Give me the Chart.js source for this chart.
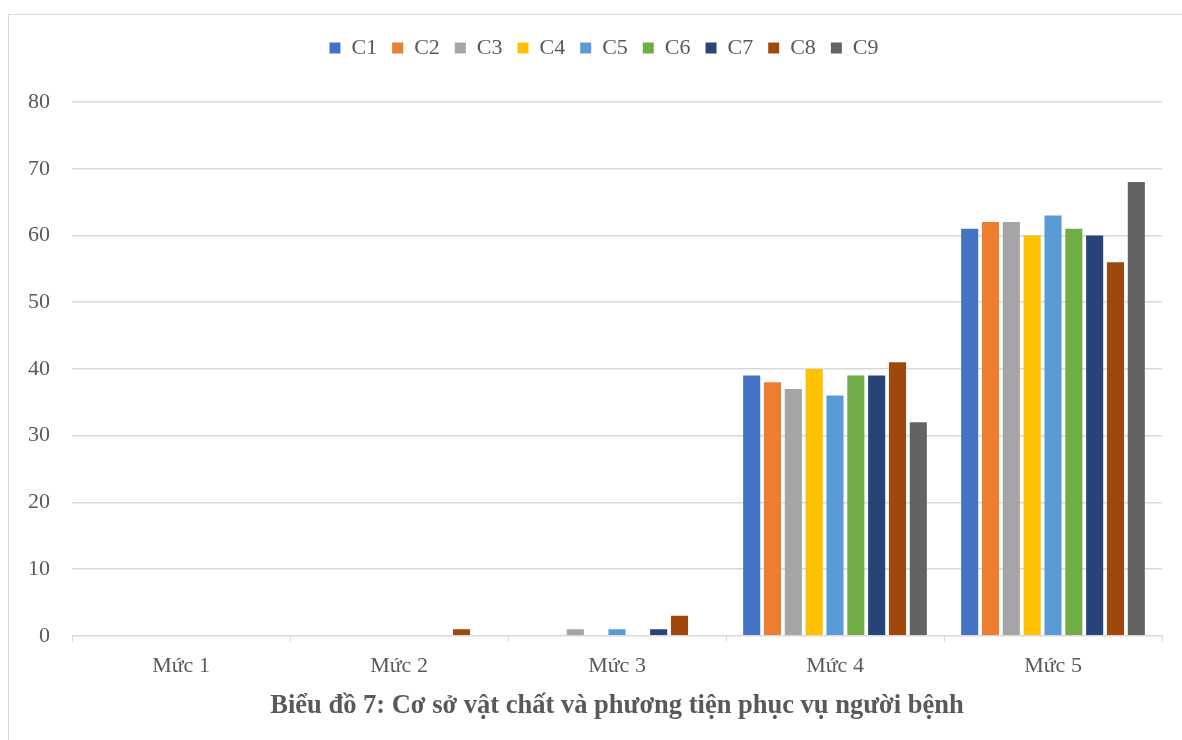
<!DOCTYPE html>
<html>
<head>
<meta charset="utf-8">
<script src="https://cdn.jsdelivr.net/npm/chart.js@4/dist/chart.umd.min.js"></script>
<style>
  html, body { margin: 0; padding: 0; background: #fff; }
  #wrap { position: relative; width: 1182px; height: 740px; overflow: hidden; }
  #frame { position: absolute; left: 8px; top: 14px; width: 1200px; height: 800px; border: 1px solid #d9d9d9; box-sizing: border-box; }
  canvas { position: absolute; left: 0; top: 0; }
</style>
</head>
<body>
<div id="wrap">
  <div id="frame"></div>
  <canvas id="chart" width="1182" height="740"></canvas>
</div>
<script>
// ── dữ liệu
const levels = ["Mức 1", "Mức 2", "Mức 3", "Mức 4", "Mức 5"];
const seriesNames = ["C1", "C2", "C3", "C4", "C5", "C6", "C7", "C8", "C9"];
const colors = ["#4472c4", "#ed7d31", "#a5a5a5", "#ffc000", "#5b9bd5", "#70ad47", "#264478", "#9e480e", "#636363"];

const c1 = [0, 0, 0, 39, 61];
const c2 = [0, 0, 0, 38, 62];
const c3 = [0, 0, 1, 37, 62];
const c4 = [0, 0, 0, 40, 60];
const c5 = [0, 0, 1, 36, 63];
const c6 = [0, 0, 0, 39, 61];
const c7 = [0, 0, 1, 39, 60];
const c8 = [0, 1, 3, 41, 56];
const c9 = [0, 0, 0, 32, 68];
const yTicks = [0, 10, 20, 30, 40, 50, 60, 70, 80];

const values = [c1, c2, c3, c4, c5, c6, c7, c8, c9];
const serif = "'Liberation Serif', 'Times New Roman', serif";

const datasets = seriesNames.map((name, i) => ({
  label: name,
  data: values[i],
  backgroundColor: colors[i],
  borderWidth: 0,
  categoryPercentage: 0.86,
  barPercentage: 0.82
}));

// khoảng trống dưới chú thích, dời chú thích và tiêu đề sang phải một chút
const boxShift = {
  id: "boxShift",
  beforeInit(chart) {
    const fit = chart.legend.fit;
    chart.legend.fit = function () { fit.call(this); this.height += 33; };
  },
  afterLayout(chart) {
    chart.legend.left += 20;
    chart.legend.right += 20;
    chart.titleBlock.left += 33;
    chart.titleBlock.right += 33;
  }
};

new Chart(document.getElementById("chart").getContext("2d"), {
  type: "bar",
  data: { labels: levels, datasets },
  plugins: [boxShift],
  options: {
    responsive: false,
    animation: false,
    layout: { padding: { left: 6, right: 20, top: 22, bottom: 18 } },
    plugins: {
      legend: {
        position: "top",
        labels: {
          font: { family: serif, size: 22 },
          color: "#595959",
          boxWidth: 11,
          boxHeight: 11,
          padding: 15
        }
      },
      title: {
        display: true,
        position: "bottom",
        text: "Biểu đồ 7: Cơ sở vật chất và phương tiện phục vụ người bệnh",
        font: { family: serif, size: 26.5, weight: "bold" },
        color: "#595959",
        padding: { top: 0, bottom: 0 }
      },
      tooltip: { enabled: false }
    },
    scales: {
      x: {
        grid: { offset: true, drawOnChartArea: false, tickLength: 6, color: "#d9d9d9" },
        border: { color: "#d9d9d9" },
        ticks: { font: { family: serif, size: 22 }, color: "#595959", padding: 11 }
      },
      y: {
        min: 0,
        max: 80,
        afterBuildTicks: axis => { axis.ticks = yTicks.map(v => ({ value: v })); },
        grid: { color: "#d9d9d9", lineWidth: 1.5, drawTicks: false },
        border: { display: false },
        ticks: { font: { family: serif, size: 22 }, color: "#595959", padding: 22 }
      }
    }
  }
});
</script>
</body>
</html>
